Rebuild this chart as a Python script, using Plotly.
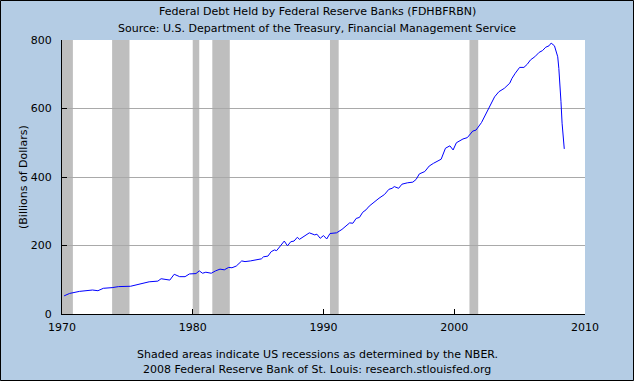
import plotly.graph_objects as go

# ---- data ----
dates = ["1970-03-01","1970-08-01","1971-05-01","1972-05-01","1972-10-01","1973-03-01","1973-11-01",
         "1974-05-01","1975-04-01","1976-01-01","1976-09-01","1977-05-01","1977-08-01","1978-04-01",
         "1978-08-01","1979-01-01","1979-06-01","1979-10-01","1980-04-01","1980-07-01","1980-10-01",
         "1981-01-01","1981-06-01","1981-10-01","1982-02-01","1982-06-01","1982-10-01","1983-01-01",
         "1983-05-01","1983-10-01","1984-01-01","1984-06-01","1984-11-01","1985-04-01","1985-06-01",
         "1985-10-01","1986-01-01","1986-04-01","1986-06-01","1986-10-01","1987-01-01","1987-04-01",
         "1987-07-01","1987-10-01","1988-01-01","1988-03-01","1988-07-01","1988-12-01","1989-05-01",
         "1989-07-01","1989-10-01","1990-01-01","1990-04-01","1990-07-01","1991-01-01","1991-06-01",
         "1992-01-01","1992-04-01","1992-07-01","1992-10-01","1993-01-01","1993-04-01","1993-07-01",
         "1993-11-01","1994-04-01","1994-09-01","1995-01-01","1995-04-01","1995-06-01","1995-10-01",
         "1996-01-01","1996-06-01","1996-11-01","1997-02-01","1997-05-01","1997-10-01","1998-02-01",
         "1998-06-01","1999-01-01","1999-05-01","1999-09-01","1999-12-01","2000-03-01","2000-09-01",
         "2001-01-01","2001-06-01","2001-09-01","2002-02-01","2002-06-01","2002-10-01","2003-02-01",
         "2003-06-01","2003-11-01","2004-04-01","2004-06-01","2004-09-01","2005-01-01","2005-05-01",
         "2005-08-01","2005-11-01","2006-03-01","2006-07-01","2006-10-01","2007-01-01","2007-04-01",
         "2007-06-01","2007-09-01","2007-12-01","2008-01-01","2008-03-01","2008-04-01","2008-06-01"]
values = [53,60,66,70,68,75,77,
          80,81,88,94,96,103,99,
          116,109,109,117,118,126,119,
          122,119,126,131,129,136,135,
          140,155,153,155,158,161,167,
          169,182,187,185,201,213,199,
          211,213,224,218,226,237,231,
          233,221,229,219,235,237,247,
          266,265,279,282,297,304,315,
          326,338,349,364,367,372,367,
          379,383,385,393,409,416,432,
          440,452,484,491,479,500,511,
          515,534,537,559,584,607,634,
          649,659,674,688,703,720,720,
          729,742,751,764,769,779,783,
          791,783,751,717,620,557,482]

recession_starts = ["1969-12-01","1973-11-01","1980-01-01","1981-07-01","1990-07-01","2001-03-01"]
recession_ends   = ["1970-11-01","1975-03-01","1980-07-01","1982-11-01","1991-03-01","2001-11-01"]

x_tick_vals = ["1970-01-01","1980-01-01","1990-01-01","2000-01-01","2010-01-01"]
x_tick_text = ["1970","1980","1990","2000","2010"]
y_tick_vals = [0,200,400,600,800]

title_line1 = "Federal Debt Held by Federal Reserve Banks (FDHBFRBN)"
title_line2 = "Source: U.S. Department of the Treasury, Financial Management Service"
foot_line1 = "Shaded areas indicate US recessions as determined by the NBER."
foot_line2 = "2008 Federal Reserve Bank of St. Louis: research.stlouisfed.org"
y_title = "(Billions of Dollars)"

W, H = 634, 381
L, R, T, B = 62, 49, 40, 67
PW, PH = W - L - R, H - T - B
BG = "#B4CCE4"
FONT = "DejaVu Sans"

fig = go.Figure()
fig.add_trace(go.Scatter(x=dates, y=values, mode="lines",
                         line=dict(color="#0000FF", width=1), hoverinfo="skip"))

shapes = []
for s, e in zip(recession_starts, recession_ends):
    shapes.append(dict(type="rect", xref="x", yref="paper", x0=s, x1=e, y0=0, y1=1,
                       fillcolor="#BEBEBE", line=dict(width=0), layer="between"))
# outer border
shapes.append(dict(type="rect", xref="paper", yref="paper",
                   x0=-(L - 0.5) / PW, x1=1 + (R - 0.5) / PW,
                   y0=-(B - 0.5) / PH, y1=1 + (T - 0.5) / PH,
                   line=dict(color="#000000", width=1), fillcolor="rgba(0,0,0,0)", layer="above"))

def ann(text, xpx, ypx, size=11, angle=0):
    return dict(text=text, xref="paper", yref="paper",
                x=(xpx - L) / PW, y=1 - (ypx - T) / PH,
                showarrow=False, font=dict(family=FONT, size=size, color="#000000"),
                xanchor="center", yanchor="middle", textangle=angle)

annotations = [
    ann(title_line1, 317, 12),
    ann(title_line2, 317, 28),
    ann(foot_line1, 317, 354),
    ann(foot_line2, 317, 369),
    ann(y_title, 23, 177, angle=-90),
]

fig.update_layout(
    width=W, height=H,
    margin=dict(l=L, r=R, t=T, b=B, pad=0),
    paper_bgcolor=BG, plot_bgcolor="#FFFFFF",
    showlegend=False,
    shapes=shapes, annotations=annotations,
    font=dict(family=FONT, size=11, color="#000000"),
    xaxis=dict(type="date", range=["1970-01-01", "2010-01-01"],
               tickvals=x_tick_vals, ticktext=x_tick_text,
               ticks="inside", ticklen=5, tickcolor="#000000", tickwidth=1,
               ticklabelstandoff=3,
               showgrid=False, zeroline=False,
               showline=True, linecolor="#000000", linewidth=1,
               tickfont=dict(family=FONT, size=11, color="#000000")),
    yaxis=dict(range=[0, 800], tickvals=y_tick_vals,
               ticks="inside", ticklen=5, tickcolor="#000000", tickwidth=1,
               ticklabelstandoff=7,
               showgrid=True, gridcolor="#A9A9A9", gridwidth=1, zeroline=False,
               showline=True, linecolor="#000000", linewidth=1,
               tickfont=dict(family=FONT, size=11, color="#000000")),
)

fig.write_html("out.html", config={"displayModeBar": False},
               post_script="document.body.style.margin='0';document.body.style.padding='0';")
